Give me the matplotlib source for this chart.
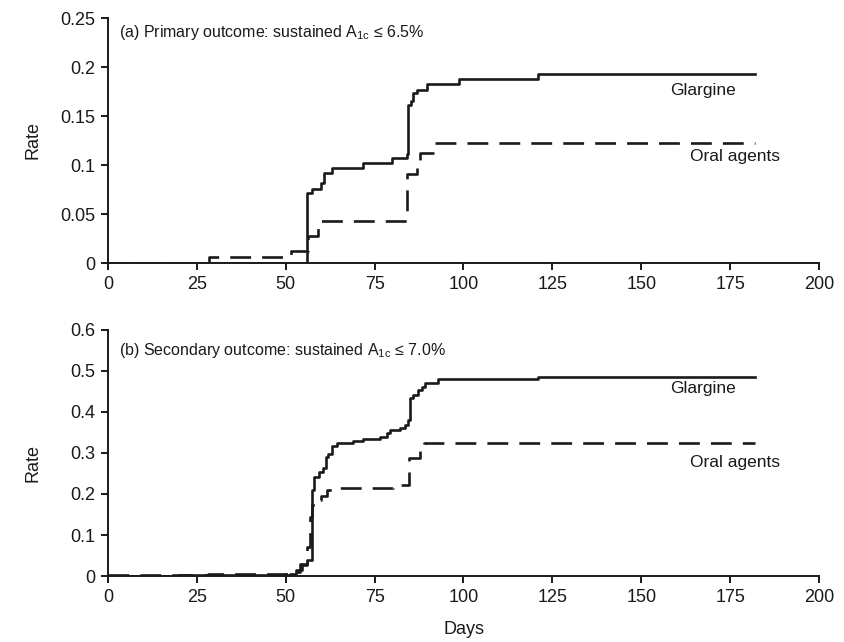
import matplotlib
matplotlib.use("Agg")
import matplotlib.pyplot as plt

plt.rcParams['font.family'] = ['Liberation Sans', 'DejaVu Sans']
plt.rcParams['mathtext.fontset'] = 'custom'
plt.rcParams['mathtext.rm'] = 'Liberation Sans'
plt.rcParams['mathtext.it'] = 'Liberation Sans'

# (a) primary outcome
a_glar_days = [0, 56, 57.3, 60, 60.8, 62.9, 71.8, 79.8, 84, 84.5, 85.2, 85.9, 86.8, 89.6, 98.8, 121, 182]
a_glar_rate = [0, 0.071, 0.076, 0.082, 0.092, 0.097, 0.102, 0.107, 0.111, 0.161, 0.165, 0.173, 0.177,
               0.183, 0.188, 0.193, 0.193]
a_oral_days = [0, 28.5, 51.6, 56.3, 59.2, 84.2, 87.0, 87.8, 91.8, 182]
a_oral_rate = [0, 0.006, 0.012, 0.028, 0.043, 0.091, 0.10, 0.112, 0.122, 0.122]

# (b) secondary outcome
b_glar_days = [0, 20, 51.2, 53, 54.5, 56, 57.3, 58, 59.4, 60.4, 61.2, 62, 63.1, 64.3, 69, 71.8, 76.5,
               78.4, 79.3, 82.1, 83.5, 84.4, 85, 85.9, 87.3, 88.3, 89.2, 92.9, 121, 182]
b_glar_rate = [0, 0.002, 0.005, 0.015, 0.027, 0.04, 0.21, 0.242, 0.254, 0.263, 0.29, 0.298, 0.316,
               0.324, 0.329, 0.333, 0.338, 0.348, 0.356, 0.36, 0.368, 0.38, 0.433, 0.441, 0.454,
               0.462, 0.471, 0.48, 0.486, 0.486]
b_oral_days = [0, 28, 38, 50, 54, 56, 56.8, 57.5, 58.4, 60, 61.5, 63.8, 80.3, 84.7, 87.7, 89, 182]
b_oral_rate = [0.002, 0.004, 0.006, 0.009, 0.03, 0.07, 0.145, 0.173, 0.185, 0.195, 0.21, 0.215,
               0.222, 0.287, 0.311, 0.325, 0.325]

x_ticks = [0, 25, 50, 75, 100, 125, 150, 175, 200]
a_yticks = [0, 0.05, 0.1, 0.15, 0.2, 0.25]
a_ylabels = ['0', '0.05', '0.1', '0.15', '0.2', '0.25']
b_yticks = [0, 0.1, 0.2, 0.3, 0.4, 0.5, 0.6]
b_ylabels = ['0', '0.1', '0.2', '0.3', '0.4', '0.5', '0.6']

fig = plt.figure(figsize=(8.45, 6.42), dpi=100)
ax1 = fig.add_axes([0.1278, 0.5903, 0.8414, 0.3816])
ax2 = fig.add_axes([0.1278, 0.1028, 0.8414, 0.3832])

lw = 1.9
dash = (0, (7.9, 4.2))
ink = '#1a1a1a'

panels = [
    (ax1, a_glar_days, a_glar_rate, a_oral_days, a_oral_rate, a_yticks, a_ylabels, 0.25,
     r"(a) Primary outcome: sustained A$_{\rm 1c}$ ≤ 6.5%", 0.235, (0.1765, 0.109)),
    (ax2, b_glar_days, b_glar_rate, b_oral_days, b_oral_rate, b_yticks, b_ylabels, 0.6,
     r"(b) Secondary outcome: sustained A$_{\rm 1c}$ ≤ 7.0%", 0.551, (0.458, 0.276)),
]

for ax, gd, gr, od, orr, yt, yl, ymax, title, ty, (gy, oy) in panels:
    ax.plot(od, orr, drawstyle='steps-post', color=ink, lw=lw, linestyle=dash)
    ax.plot(gd, gr, drawstyle='steps-post', color=ink, lw=lw)
    ax.set_xlim(0, 200)
    ax.set_ylim(0, ymax)
    ax.set_xticks(x_ticks)
    ax.set_xticklabels([str(t) for t in x_ticks])
    ax.set_yticks(yt)
    ax.set_yticklabels(yl)
    for s in ['top', 'right']:
        ax.spines[s].set_visible(False)
    for s in ['left', 'bottom']:
        ax.spines[s].set_linewidth(1.4)
        ax.spines[s].set_color(ink)
    ax.tick_params(direction='out', length=5, width=1.4, labelsize=13, colors=ink, pad=4)
    ax.text(3.2, ty, title, fontsize=11.5, va='center', ha='left', color=ink)
    ax.text(158, gy, 'Glargine', fontsize=12.5, va='center', ha='left', color=ink)
    ax.text(163.7, oy, 'Oral agents', fontsize=12.5, va='center', ha='left', color=ink)

fig.text(33 / 845, 1 - 140 / 642, 'Rate', rotation=90, ha='center', va='center', fontsize=13,
         color=ink)
fig.text(33 / 845, 1 - 463 / 642, 'Rate', rotation=90, ha='center', va='center', fontsize=13,
         color=ink)
fig.text(464 / 845, 1 - 630 / 642, 'Days', ha='center', va='center', fontsize=13, color=ink)

fig.savefig('out.png', dpi=100)
